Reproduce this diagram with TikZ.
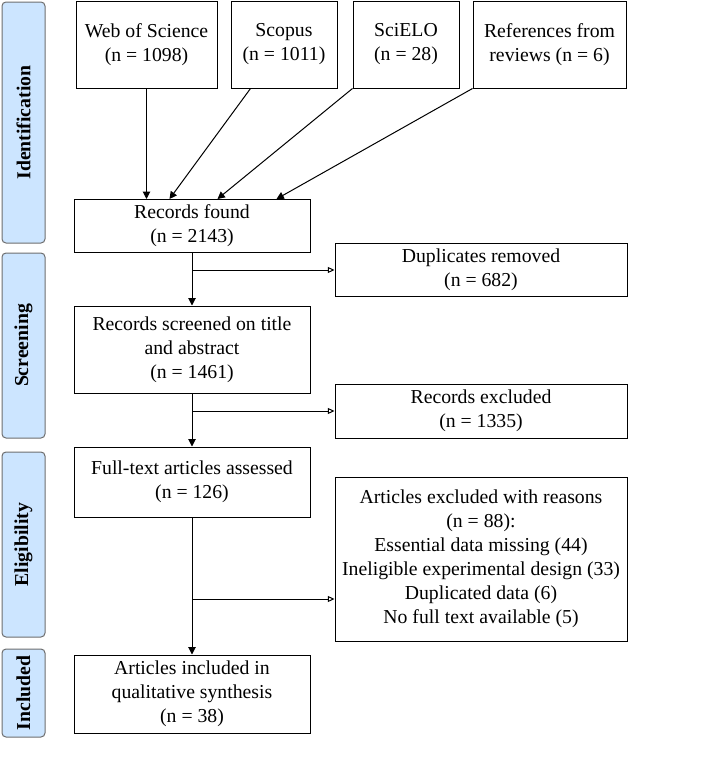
\documentclass[tikz,border=0pt]{standalone}
\usepackage{fontspec}
\setmainfont{Liberation Serif}
\usetikzlibrary{arrows.meta,positioning,calc}
\definecolor{phasefill}{HTML}{CCE5FF}
\definecolor{phasedraw}{HTML}{6E6E6E}
\newdimen\pxu
\pxu=0.75pt

\begin{document}
\begin{tikzpicture}[x=\pxu,y=-\pxu,line width=\pxu,
      every node/.style={font=\fontsize{14.8}{18}\selectfont,align=center},
      box/.style={draw,inner sep=2pt},
      phase/.style={draw=phasedraw,fill=phasefill,rounded corners=3pt},
      phaselabel/.style={rotate=90,font=\fontsize{14.8}{18}\selectfont\bfseries},
      flow/.style={-{Triangle[width=5.5pt,length=5.5pt]}},
      side/.style={-{Triangle[open,width=4.5pt,length=5pt]}}]

  \useasboundingbox (0,0) rectangle (716,771);

  % phases
  \draw[phase] (2,2) rectangle (45,243)
    node[phaselabel,midway] (pid) {Identification};
  \draw[phase] (2,253) rectangle (45,438)
    node[phaselabel,midway] (pscr) {Screening};
  \draw[phase] (2,452) rectangle (45,637)
    node[phaselabel,midway] (pelig) {Eligibility};
  \draw[phase] (2,649) rectangle (45,737)
    node[phaselabel,midway] (pincl) {Included};

  % sources
  \node[box,minimum width=141\pxu,minimum height=87\pxu] (wos) at (146.5,44.5)
    {Web of Science\\(n = 1098)};
  \node[box,minimum width=106\pxu,minimum height=87\pxu] (scopus) at (284,44.5)
    {Scopus\\(n = 1011)};
  \node[box,minimum width=106\pxu,minimum height=87\pxu] (scielo) at (406,44.5)
    {SciELO\\(n = 28)};
  \node[box,minimum width=153\pxu,minimum height=87\pxu] (refs) at (549.5,44.5)
    {References from\\reviews (n = 6)};

  % main column
  \node[box,minimum width=236\pxu,minimum height=53\pxu] (found) at (192,226)
    {Records found\\(n = 2143)};
  \node[box,minimum width=236\pxu,minimum height=87\pxu] (screened) at (192,349.5)
    {Records screened on title\\and abstract\\(n = 1461)};
  \node[box,minimum width=236\pxu,minimum height=70\pxu] (fulltext) at (192,482)
    {Full-text articles assessed\\(n = 126)};
  \node[box,minimum width=236\pxu,minimum height=78\pxu] (included) at (192,694)
    {Articles included in\\qualitative synthesis\\(n = 38)};

  % exclusions
  \node[box,minimum width=292\pxu,minimum height=53\pxu] (dupl) at (481,270)
    {Duplicates removed\\(n = 682)};
  \node[box,minimum width=292\pxu,minimum height=54\pxu] (recexcl) at (481,411)
    {Records excluded\\(n = 1335)};
  \node[box,minimum width=292\pxu,minimum height=164\pxu] (artexcl) at (481,559)
    {Articles excluded with reasons\\(n = 88):\\Essential data missing (44)\\
     Ineligible experimental design (33)\\Duplicated data (6)\\No full text available (5)};

  % source arrows
  \draw[flow] (wos.south) -- (wos.south |- found.north);
  \draw[flow] ($(scopus.south west)+(20,0)$) -- ($(found.north west)+(96,0)$);
  \draw[flow] (scielo.south west) -- ($(found.north west)+(144,0)$);
  \draw[flow] (refs.south west) -- ($(found.north west)+(203,0)$);

  % main flow
  \draw[flow] (found) -- (screened);
  \draw[flow] (screened) -- (fulltext);
  \draw[flow] (fulltext) -- (included);

  % branches
  \coordinate (b1) at (found.south |- dupl.west);
  \coordinate (b2) at (screened.south |- recexcl.west);
  \coordinate (b3) at (192,599);
  \draw[side] (b1) -- (dupl.west);
  \draw[side] (b2) -- (recexcl.west);
  \draw[side] (b3) -- (b3 -| artexcl.west);

\end{tikzpicture}
\end{document}
